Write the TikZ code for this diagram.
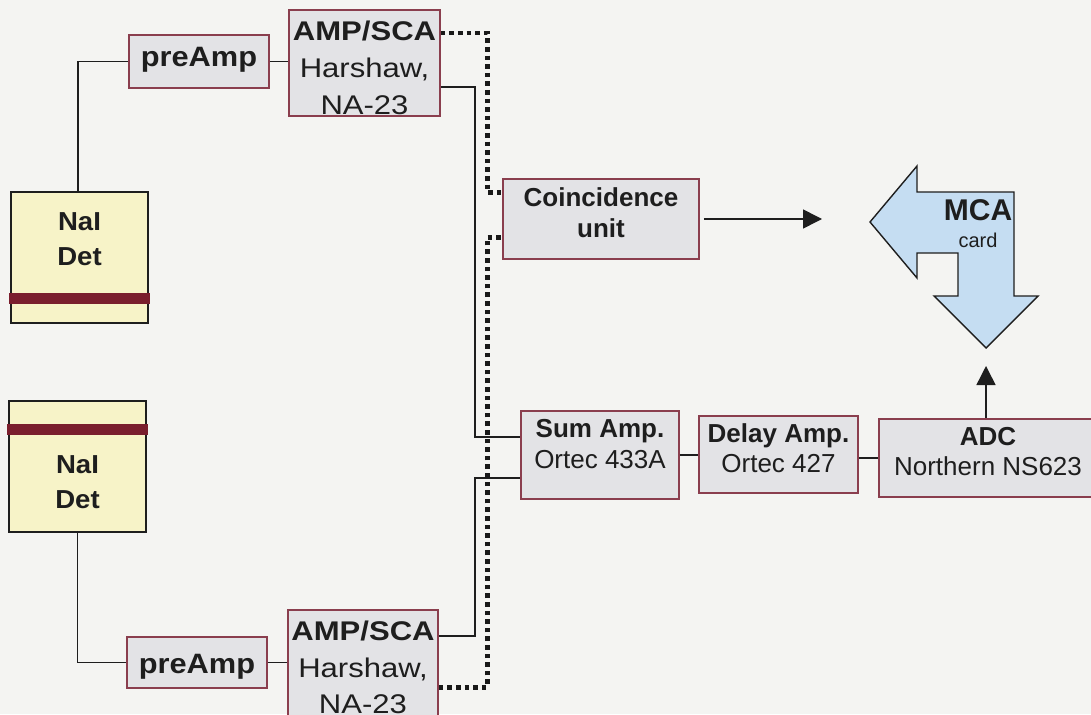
\documentclass[tikz,border=0pt]{standalone}
\usepackage{fontspec}
\setmainfont{Liberation Sans}
\usepackage{graphicx}
\usetikzlibrary{arrows.meta}
\definecolor{bgc}{RGB}{244,244,242}
\definecolor{boxfill}{RGB}{227,227,230}
\definecolor{boxedge}{RGB}{138,62,78}
\definecolor{detfill}{RGB}{247,243,200}
\definecolor{barred}{RGB}{122,30,45}
\definecolor{mcafill}{RGB}{197,221,242}
\definecolor{ink}{RGB}{30,30,30}
\newcommand{\hstr}[2]{\scalebox{#1}[1]{#2}}
\begin{document}
\begin{tikzpicture}[x=1pt,y=-1pt,
  blk/.style={draw=boxedge, fill=boxfill, line width=1.6pt, inner sep=0pt, rectangle},
  detbox/.style={draw=ink, fill=detfill, line width=1.8pt, inner sep=0pt, rectangle, minimum width=137pt, minimum height=131pt},
  redbar/.style={fill=barred, draw=none, inner sep=0pt, rectangle, minimum width=141pt, minimum height=11pt},
  txt/.style={anchor=base, inner sep=0pt, text=ink},
  bigb/.style={txt, font=\fontsize{27pt}{30pt}\selectfont\bfseries},
  bigr/.style={txt, font=\fontsize{27pt}{30pt}\selectfont},
  midb/.style={txt, font=\fontsize{26pt}{30pt}\selectfont\bfseries},
  midr/.style={txt, font=\fontsize{26pt}{30pt}\selectfont},
  wire/.style={draw=ink, line width=1.5pt},
  dotline/.style={draw=black!90, line width=4.6pt, dash pattern=on 4.6pt off 4pt},
  tip/.style={-{Triangle[length=19pt,width=19pt]}}
]
\useasboundingbox (0,0) rectangle (1091,714);
\fill[bgc] (0,0) rectangle (1091,714);

% detectors
\node[detbox] (det1) at (79.5,257.5) {};
\node[redbar] (bar1) at (79.5,298.5) {};
\node[midb] (det1a) at (79.5,230) {\hstr{1.06}{NaI}};
\node[midb] (det1b) at (79.5,265) {\hstr{1.06}{Det}};

\node[detbox] (det2) at (77.5,466.5) {};
\node[redbar] (bar2) at (77.5,429.5) {};
\node[midb] (det2a) at (77.5,473) {\hstr{1.06}{NaI}};
\node[midb] (det2b) at (77.5,508) {\hstr{1.06}{Det}};

% preamps
\node[blk, minimum width=140pt, minimum height=53pt] (pre1) at (199,61.5) {};
\node[bigb, font=\fontsize{28pt}{30pt}\selectfont\bfseries] (pre1t) at (199,67) {\hstr{1.1}{preAmp}};
\node[blk, minimum width=140pt, minimum height=51pt] (pre2) at (197,662.5) {};
\node[bigb, font=\fontsize{28pt}{30pt}\selectfont\bfseries] (pre2t) at (197,673) {\hstr{1.1}{preAmp}};

% AMP/SCA
\node[blk, minimum width=151pt, minimum height=106pt] (amp1) at (364.5,63) {};
\node[bigb] (amp1a) at (364.5,41) {\hstr{1.15}{AMP/SCA}};
\node[bigr] (amp1b) at (364.5,78) {\hstr{1.15}{Harshaw,}};
\node[bigr] (amp1c) at (364.5,115) {\hstr{1.15}{NA-23}};

\node[blk, minimum width=150pt, minimum height=120pt] (amp2) at (363,670) {};
\node[bigb] (amp2a) at (363,640) {\hstr{1.15}{AMP/SCA}};
\node[bigr] (amp2b) at (363,677) {\hstr{1.15}{Harshaw,}};
\node[bigr] (amp2c) at (363,713) {\hstr{1.15}{NA-23}};

% coincidence
\node[blk, minimum width=196pt, minimum height=80pt] (coin) at (601,219) {};
\node[midb] (coina) at (601,206) {Coincidence};
\node[midb] (coinb) at (601,237) {unit};

% sum / delay / adc
\node[blk, minimum width=158pt, minimum height=88pt] (sum) at (600,455) {};
\node[midb] (suma) at (600,437) {Sum Amp.};
\node[midr] (sumb) at (600,468) {Ortec 433A};

\node[blk, minimum width=159pt, minimum height=77pt] (delay) at (778.5,454.5) {};
\node[midb] (delaya) at (778.5,442) {Delay Amp.};
\node[midr] (delayb) at (778.5,472) {Ortec 427};

\node[blk, minimum width=223pt, minimum height=78pt] (adc) at (990.5,458) {};
\node[midb] (adca) at (988,445) {ADC};
\node[midr] (adcb) at (988,475) {Northern NS623};

% MCA bent arrow
\draw[draw=ink, fill=mcafill, line width=1.4pt, line join=miter]
  (870,222) -- (917,166) -- (917,192) -- (1014,192) -- (1014,296) -- (1038,296)
  -- (986,348) -- (934,296) -- (958,296) -- (958,253) -- (917,253) -- (917,278) -- cycle;
\node[txt, font=\fontsize{30pt}{32pt}\selectfont\bfseries] (mcaa) at (978,220) {MCA};
\node[txt, font=\fontsize{20pt}{22pt}\selectfont] (mcab) at (978,247) {card};

% connectors
\draw[wire] ([xshift=-1.5pt]det1.north) |- (pre1.west);
\draw[wire] (pre1.east) -- (pre1.east -| amp1.west);
\draw[wire] (det2.south) |- (pre2.west);
\draw[wire] (pre2.east) -- (pre2.east -| amp2.west);

\draw[wire] ([yshift=-78pt]amp1.north east) -| ([xshift=-45pt,yshift=-27pt]sum.north west) -- ([yshift=-27pt]sum.north west);
\draw[wire] ([yshift=-27pt]amp2.north east) -| ([xshift=-45pt,yshift=-68pt]sum.north west) -- ([yshift=-68pt]sum.north west);

\draw[dotline] ([yshift=-24pt]amp1.north east) -| ([xshift=-15pt,yshift=-14pt]coin.north west) -- ([yshift=-14pt]coin.north west);
\draw[dotline] ([yshift=-78pt]amp2.north east) -| ([xshift=-15pt,yshift=-59pt]coin.north west) -- ([yshift=-59pt]coin.north west);

\draw[wire] (sum.east) -- (sum.east -| delay.west);
\draw[wire] (adc.west) -- (adc.west -| delay.east);

\coordinate (cArrow) at (822,219);
\draw[wire, tip] ([xshift=4pt]coin.east) -- (cArrow);
\coordinate (uArrow) at (986,366);
\draw[wire, tip] (uArrow |- adc.north) -- (uArrow);
\end{tikzpicture}
\end{document}
